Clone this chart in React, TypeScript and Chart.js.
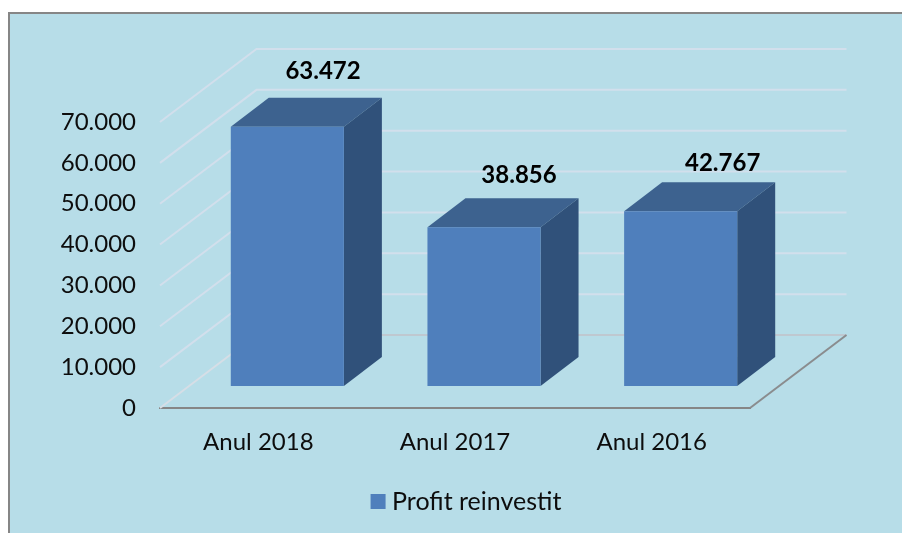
import React, { useEffect, useRef } from "react";
import { Chart, registerables } from "chart.js";

Chart.register(...registerables);

const categories = ["Anul 2018", "Anul 2017", "Anul 2016"];
const seriesName = "Profit reinvestit";
const profitValues = [63472, 38856, 42767];
const yTickMax = 70000;
const yTickStep = 10000;

const FONT = "Lato, sans-serif";
const COLORS = {
  panel: "#B7DDE8",
  frame: "#868686",
  grid: "#D2DFEC",
  front: "#4F7FBC",
  top: "#3D628F",
  side: "#30517A",
  floorBack: "#BFC8D0",
  floorSide: "#8A8C8E",
  floorLeft: "#D6DEE6",
  text: "#0D0D0D",
};
const WALL = { dx: 96.5, dy: -73 };
const BAR_SHIFT = { dx: 29, dy: -22 };
const BAR_DEPTH = { dx: 38, dy: -29 };
const LABEL_SHIFT = [
  { dx: 64.7, dy: -77 },
  { dx: 64, dy: -74 },
  { dx: 71, dy: -70 },
];

const dotted = (v: number) => {
  const s = String(Math.round(v));
  return s.length > 3 ? s.slice(0, -3) + "." + s.slice(-3) : s;
};

const line = (ctx: CanvasRenderingContext2D, pts: number[][], color: string, width: number) => {
  ctx.beginPath();
  pts.forEach(([x, y], i) => (i ? ctx.lineTo(x, y) : ctx.moveTo(x, y)));
  ctx.strokeStyle = color;
  ctx.lineWidth = width;
  ctx.stroke();
};

const poly = (ctx: CanvasRenderingContext2D, pts: number[][], color: string) => {
  ctx.beginPath();
  pts.forEach(([x, y], i) => (i ? ctx.lineTo(x, y) : ctx.moveTo(x, y)));
  ctx.closePath();
  ctx.fillStyle = color;
  ctx.fill();
};

const bar3d = {
  id: "bar3d",
  beforeDraw(chart: any) {
    const { ctx, width, height } = chart;
    ctx.save();
    ctx.fillStyle = COLORS.frame;
    ctx.fillRect(8, 12, width - 8, height - 12);
    ctx.fillStyle = COLORS.panel;
    ctx.fillRect(10, 14, width - 10, height - 14);
    ctx.restore();
  },
  afterLayout(chart: any) {
    // the legend sits under the whole frame, not under the plot
    chart.legend.left += 94;
    chart.legend.right += 94;
  },
  beforeDatasetsDraw(chart: any) {
    const { ctx, chartArea, scales } = chart;
    const { left, right } = chartArea;
    ctx.save();
    // walls
    scales.y.ticks.forEach((t: any) => {
      const y = scales.y.getPixelForValue(t.value);
      if (t.value === 0) return;
      line(
        ctx,
        [
          [left, y],
          [left + WALL.dx, y + WALL.dy],
          [right + WALL.dx, y + WALL.dy],
        ],
        COLORS.grid,
        2
      );
    });
    // floor
    const y0 = scales.y.getPixelForValue(0);
    line(ctx, [[left, y0], [left + WALL.dx, y0 + WALL.dy]], COLORS.floorLeft, 2);
    line(ctx, [[left + WALL.dx, y0 + WALL.dy], [right + WALL.dx, y0 + WALL.dy]], COLORS.floorBack, 2);
    line(ctx, [[right, y0], [right + WALL.dx, y0 + WALL.dy]], COLORS.floorSide, 2);
    // bar depth faces
    chart.getDatasetMeta(0).data.forEach((el: any) => {
      const l = el.x - el.width / 2 + BAR_SHIFT.dx;
      const r = el.x + el.width / 2 + BAR_SHIFT.dx;
      const t = el.y + BAR_SHIFT.dy;
      const b = el.base + BAR_SHIFT.dy;
      const d = BAR_DEPTH;
      poly(ctx, [[l, t], [r, t], [r + d.dx, t + d.dy], [l + d.dx, t + d.dy]], COLORS.top);
      poly(ctx, [[r, t], [r + d.dx, t + d.dy], [r + d.dx, b + d.dy], [r, b]], COLORS.side);
    });
    ctx.restore();
  },
  beforeDatasetDraw(chart: any) {
    chart.ctx.save();
    chart.ctx.translate(BAR_SHIFT.dx, BAR_SHIFT.dy);
  },
  afterDatasetDraw(chart: any) {
    chart.ctx.restore();
  },
  afterDatasetsDraw(chart: any) {
    const { ctx } = chart;
    ctx.save();
    ctx.font = `bold 24px ${FONT}`;
    ctx.fillStyle = "#000";
    ctx.textAlign = "center";
    ctx.textBaseline = "middle";
    chart.getDatasetMeta(0).data.forEach((el: any, i: number) => {
      ctx.fillText(dotted(profitValues[i]), el.x + LABEL_SHIFT[i].dx, el.y + LABEL_SHIFT[i].dy);
    });
    ctx.restore();
  },
};

export default function App() {
  const ref = useRef<HTMLCanvasElement>(null);
  useEffect(() => {
    const chart = new Chart(ref.current!, {
      type: "bar",
      data: {
        labels: categories,
        datasets: [
          {
            label: seriesName,
            data: profitValues,
            backgroundColor: COLORS.front,
            borderWidth: 0,
            barPercentage: 0.575,
            categoryPercentage: 1,
            clip: false,
          } as any,
        ],
      },
      options: {
        responsive: false,
        animation: false,
        layout: { padding: { left: 0, right: 152, top: 122, bottom: 9 } },
        plugins: {
          tooltip: { enabled: false },
          legend: {
            position: "bottom",
            labels: {
              color: COLORS.text,
              font: { family: FONT, size: 25 },
              usePointStyle: true,
              pointStyle: "rect",
              boxWidth: 3,
              boxHeight: 15,
              padding: 10,
            },
          },
        },
        scales: {
          x: {
            grid: { display: false },
            border: { color: COLORS.frame, width: 2 },
            afterFit: (s: any) => { s.height = 71; },
            ticks: {
              color: COLORS.text,
              font: { family: FONT, size: 24 },
              padding: 12,
              maxRotation: 0,
              autoSkip: false,
            },
          },
          y: {
            min: 0,
            max: yTickMax,
            grid: { display: false },
            border: { display: false },
            afterFit: (s: any) => { s.width = 160; },
            ticks: {
              stepSize: yTickStep,
              color: COLORS.text,
              font: { family: FONT, size: 24 },
              padding: 16,
              callback: (v: any) => dotted(Number(v)),
            },
          },
        },
      },
      plugins: [bar3d],
    } as any);
    return () => chart.destroy();
  }, []);
  return (
    <div style={{ position: "fixed", left: 0, top: 0, width: 902, height: 533 }}>
      <canvas ref={ref} width={902} height={533} style={{ display: "block" }} />
    </div>
  );
}
